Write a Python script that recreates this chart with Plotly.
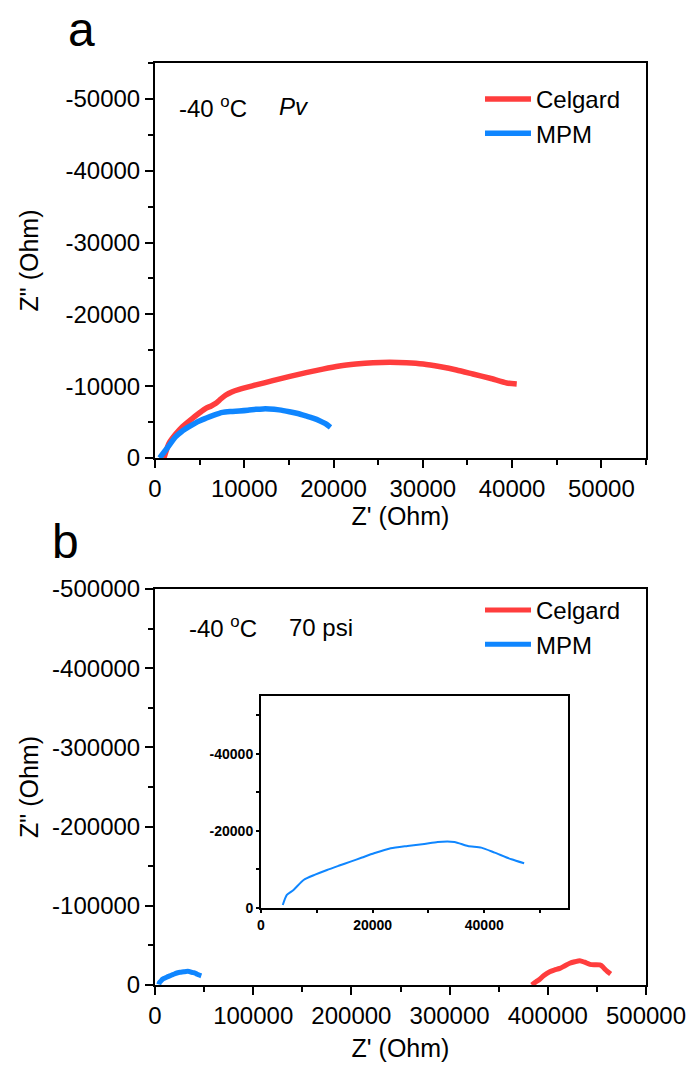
import plotly.graph_objects as go

# ---------------- data ----------------
top_celgard_x = [1000, 1570, 2300, 3070, 4200, 5000, 5690, 6300, 6820, 7400, 7940, 8600, 9440,
                 11310, 13180, 15000, 16930, 18800, 20670, 22500, 24420, 26300, 28160, 30040,
                 32000, 33780, 35600, 37530, 39400, 40520]
top_celgard_y = [0, -2050, -3300, -4360, -5530, -6300, -6920, -7250, -7620, -8250, -8770, -9200,
                 -9560, -10170, -10770, -11330, -11880, -12380, -12810, -13080, -13270, -13330,
                 -13270, -13090, -12700, -12260, -11700, -11100, -10450, -10310]

top_mpm_x = [520, 1200, 2320, 3000, 3820, 4700, 5690, 6600, 7570, 8500, 9440, 10400, 11310,
             12100, 12810, 13900, 15060, 16000, 16930, 17700, 18430, 19100, 19660]
top_mpm_y = [0, -1110, -2970, -3700, -4360, -5000, -5530, -5980, -6360, -6480, -6550, -6650,
             -6780, -6840, -6830, -6700, -6450, -6200, -5850, -5550, -5200, -4780, -4270]

bot_celgard_x = [383700, 388000, 391800, 396000, 402000, 407000, 412200, 417000, 422400, 427500,
                 432600, 437500, 442900, 448000, 453000, 456000, 458200, 461000, 464000]
bot_celgard_y = [0, -4000, -7200, -12000, -16800, -19000, -21000, -24000, -27400, -29300,
                 -30700, -28800, -26100, -25600, -25300, -23000, -19800, -16800, -13900]

bot_mpm_x = [3900, 4630, 5820, 7630, 9700, 11830, 13900, 16040, 18100, 20240, 23240, 26250,
             29250, 31650, 34650, 37060, 39460, 41860, 44860, 47140]
bot_mpm_y = [-780, -3380, -4680, -7270, -8650, -9870, -10950, -12030, -13100, -14200, -15500,
             -16100, -16620, -17140, -17140, -16100, -15670, -14360, -12640, -11600]

series_names = ["Celgard", "MPM"]

top_xtick_vals = [0, 10000, 20000, 30000, 40000, 50000]
top_xtick_text = ["0", "10000", "20000", "30000", "40000", "50000"]
top_ytick_vals = [0, -10000, -20000, -30000, -40000, -50000]
top_ytick_text = ["0", "-10000", "-20000", "-30000", "-40000", "-50000"]

bot_xtick_vals = [0, 100000, 200000, 300000, 400000, 500000]
bot_xtick_text = ["0", "100000", "200000", "300000", "400000", "500000"]
bot_ytick_vals = [0, -100000, -200000, -300000, -400000, -500000]
bot_ytick_text = ["0", "-100000", "-200000", "-300000", "-400000", "-500000"]

ins_xtick_vals = [0, 20000, 40000]
ins_xtick_text = ["0", "20000", "40000"]
ins_ytick_vals = [0, -20000, -40000]
ins_ytick_text = ["0", "-20000", "-40000"]

RED = "#FF3D3D"
BLUE = "#0F86FF"
FONT = "Liberation Sans, Arial, sans-serif"

fig = go.Figure()

fig.add_trace(go.Scatter(x=top_celgard_x, y=top_celgard_y, mode="lines", name=series_names[0],
                         line=dict(color=RED, width=5.5, shape="spline", smoothing=0.6),
                         xaxis="x", yaxis="y", legend="legend"))
fig.add_trace(go.Scatter(x=top_mpm_x, y=top_mpm_y, mode="lines", name=series_names[1],
                         line=dict(color=BLUE, width=5.5, shape="spline", smoothing=0.6),
                         xaxis="x", yaxis="y", legend="legend"))

fig.add_trace(go.Scatter(x=bot_celgard_x, y=bot_celgard_y, mode="lines", name=series_names[0],
                         line=dict(color=RED, width=5, shape="spline", smoothing=0.6),
                         xaxis="x2", yaxis="y2", legend="legend2"))
fig.add_trace(go.Scatter(x=bot_mpm_x, y=bot_mpm_y, mode="lines", name=series_names[1],
                         line=dict(color=BLUE, width=5, shape="spline", smoothing=0.6),
                         xaxis="x2", yaxis="y2", legend="legend2"))

fig.add_trace(go.Scatter(x=bot_mpm_x, y=bot_mpm_y, mode="lines", showlegend=False,
                         line=dict(color=BLUE, width=2, shape="spline", smoothing=0.6),
                         xaxis="x3", yaxis="y3"))

H = 1065.0
W = 690.0

def ax(domain, rng, tv, tt, minor_dtick, size=24, title=None, standoff=10, anchor=None,
       ticklen=8, bold=False, lw=2):
    d = dict(domain=domain, range=rng, tickmode="array", tickvals=tv, ticktext=tt,
             automargin=False,
             showgrid=False, zeroline=False, showline=True, linecolor="black", linewidth=lw,
             mirror=True, ticks="outside", ticklen=ticklen, tickwidth=2, tickcolor="black",
             tickfont=dict(family=FONT, size=size, color="black",
                           weight="bold" if bold else "normal"),
             minor=dict(ticks="outside", ticklen=max(3, ticklen // 2 + 1), tickwidth=2,
                        tickcolor="black", dtick=minor_dtick, tick0=0),
             anchor=anchor)
    if title:
        d["title"] = dict(text=title, font=dict(family=FONT, size=25, color="black"),
                          standoff=standoff)
    return d

xdom = [155 / W, 646 / W]
fig.update_layout(
    width=690, height=1065,
    margin=dict(l=0, r=0, t=0, b=0, autoexpand=False),
    paper_bgcolor="white", plot_bgcolor="white",
    xaxis=ax(xdom, [0, 55000], top_xtick_vals, top_xtick_text, 5000,
             title="Z' (Ohm)", standoff=7, anchor="y"),
    yaxis=ax([1 - 458 / H, 1 - 63 / H], [0, -55000], top_ytick_vals, top_ytick_text, 5000,
             title='Z" (Ohm)', standoff=20, anchor="x"),
    xaxis2=ax(xdom, [0, 500000], bot_xtick_vals, bot_xtick_text, 50000,
              title="Z' (Ohm)", standoff=12, anchor="y2"),
    yaxis2=ax([1 - 985 / H, 1 - 589 / H], [0, -500000], bot_ytick_vals, bot_ytick_text, 50000,
              title='Z" (Ohm)', standoff=6, anchor="x2"),
    xaxis3=ax([261 / W, 568 / W], [0, 55000], ins_xtick_vals, ins_xtick_text, 10000,
              size=14, anchor="y3", ticklen=3, bold=True),
    yaxis3=ax([1 - 908 / H, 1 - 696 / H], [0, -55000], ins_ytick_vals, ins_ytick_text, 10000,
              size=14, anchor="x3", ticklen=3, bold=True),
    legend=dict(x=480 / W, y=1 - 77 / H, xanchor="left", yanchor="top",
                bgcolor="rgba(0,0,0,0)", font=dict(family=FONT, size=24, color="black"),
                itemwidth=46, tracegroupgap=0),
    legend2=dict(x=480 / W, y=1 - 588 / H, xanchor="left", yanchor="top",
                 bgcolor="rgba(0,0,0,0)", font=dict(family=FONT, size=24, color="black"),
                 itemwidth=46, tracegroupgap=0),
    showlegend=True,
)

ann_font = dict(family=FONT, size=24, color="black")
fig.add_annotation(x=177 / W, y=1 - 107 / H, xref="paper", yref="paper", xanchor="left",
                   yanchor="middle", showarrow=False, text="-40 <sup>o</sup>C", font=ann_font)
fig.add_annotation(x=277 / W, y=1 - 107 / H, xref="paper", yref="paper", xanchor="left",
                   yanchor="middle", showarrow=False, text="<i>Pv</i>", font=ann_font)
fig.add_annotation(x=187 / W, y=1 - 627 / H, xref="paper", yref="paper", xanchor="left",
                   yanchor="middle", showarrow=False, text="-40 <sup>o</sup>C", font=ann_font)
fig.add_annotation(x=287 / W, y=1 - 627 / H, xref="paper", yref="paper", xanchor="left",
                   yanchor="middle", showarrow=False, text="70 psi", font=ann_font)

panel_font = dict(family=FONT, size=48, color="black")
fig.add_annotation(x=66 / W, y=1 - 29 / H, xref="paper", yref="paper", xanchor="left",
                   yanchor="middle", showarrow=False, text="a", font=panel_font)
fig.add_annotation(x=50 / W, y=1 - 541 / H, xref="paper", yref="paper", xanchor="left",
                   yanchor="middle", showarrow=False, text="b", font=panel_font)

fig.write_html("out.html")
